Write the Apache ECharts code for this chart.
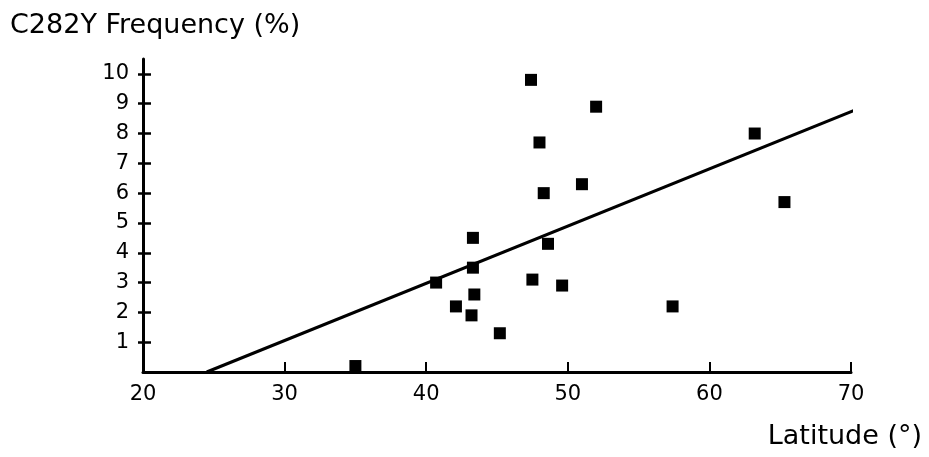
<!DOCTYPE html>
<html>
<head>
<meta charset="utf-8">
<script src="https://cdn.jsdelivr.net/npm/echarts@6/dist/echarts.min.js"></script>
<style>
  html, body { margin: 0; padding: 0; background: #fff; }
  #chart { width: 929px; height: 457px; }
</style>
</head>
<body>
<div id="chart"></div>
<script>
// latitude (deg) and C282Y frequency (%)
const latitude = [35.0, 40.7, 42.1, 43.2, 43.3, 43.3, 43.4, 45.2, 47.4, 47.5, 48.0, 48.3, 48.6, 49.6, 51.0, 52.0, 57.4, 63.2, 65.3]
const frequency = [0.2, 3.0, 2.2, 1.9, 4.5, 3.5, 2.6, 1.3, 9.8, 3.1, 7.7, 6.0, 4.3, 2.9, 6.3, 8.9, 2.2, 8.0, 5.7]
// regression line end points
const fitLat = [24.5, 70.5]
const fitFreq = [0, 8.83]
const yTicks = [1, 2, 3, 4, 5, 6, 7, 8, 9, 10]
const xTicks = [20, 30, 40, 50, 60, 70]

const font = 'DejaVu Sans'
const chart = echarts.init(document.getElementById('chart'))

const points = latitude.map((x, i) => [x, frequency[i]])
const fit = fitLat.map((x, i) => [x, fitFreq[i]])

chart.setOption({
  animation: false,
  backgroundColor: '#fff',
  title: [
    {
      text: 'C282Y Frequency (%)',
      left: 5,
      top: 7,
      textStyle: { fontFamily: font, fontSize: 27, fontWeight: 'normal', color: '#000' }
    },
    {
      text: 'Latitude (°)',
      right: 2,
      top: 418,
      textStyle: { fontFamily: font, fontSize: 27, fontWeight: 'normal', color: '#000' }
    }
  ],
  grid: {
    left: 143,
    right: 78,
    top: 59,
    bottom: 85
  },
  xAxis: {
    type: 'value',
    min: 20,
    max: 70,
    interval: 10,
    splitLine: { show: false },
    axisLine: { lineStyle: { color: '#000', width: 3 } },
    axisTick: {
      inside: true,
      length: 10,
      lineStyle: { color: '#000', width: 2 },
      customValues: xTicks.slice(1)
    },
    axisLabel: {
      color: '#000',
      fontFamily: font,
      fontSize: 21,
      margin: 12,
      customValues: xTicks
    }
  },
  yAxis: [
    {
      type: 'value',
      min: 0,
      max: 10.5,
      splitLine: { show: false },
      axisLine: { lineStyle: { color: '#000', width: 3 } },
      axisTick: {
        inside: true,
        length: 8,
        lineStyle: { color: '#000', width: 2.5 },
        customValues: yTicks
      },
      axisLabel: {
        color: '#000',
        fontFamily: font,
        fontSize: 21,
        margin: 14,
        customValues: yTicks
      }
    },
    {
      // outward half of the crossing ticks
      type: 'value',
      position: 'left',
      min: 0,
      max: 10.5,
      splitLine: { show: false },
      axisLine: { show: false },
      axisTick: {
        inside: false,
        length: 5,
        lineStyle: { color: '#000', width: 2.5 },
        customValues: yTicks
      },
      axisLabel: { show: false }
    }
  ],
  series: [
    {
      type: 'line',
      data: fit,
      symbol: 'none',
      clip: false,
      lineStyle: { color: '#000', width: 3 }
    },
    {
      type: 'scatter',
      data: points,
      symbol: 'rect',
      symbolSize: 12,
      itemStyle: { color: '#000', opacity: 1 }
    }
  ]
})
</script>
</body>
</html>
